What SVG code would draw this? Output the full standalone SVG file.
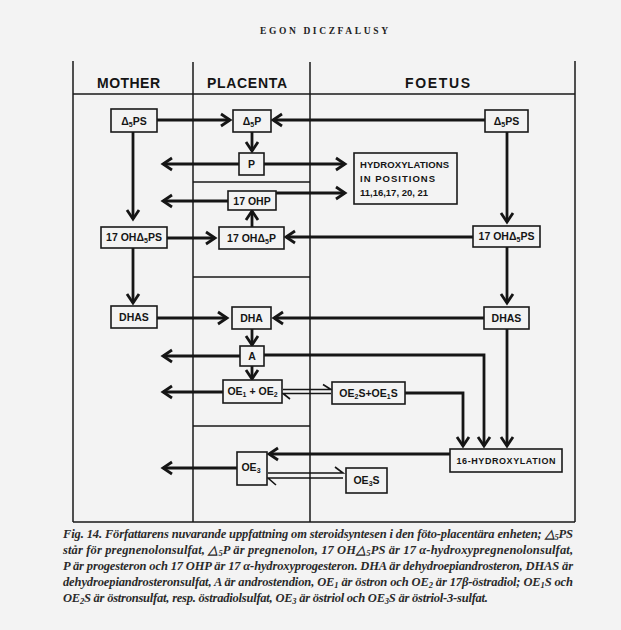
<svg xmlns="http://www.w3.org/2000/svg" width="621" height="630" viewBox="0 0 621 630">
<style>
.frame{stroke:#1a1a1a;stroke-width:1.5;fill:none}
.box{fill:#f3f3f3;stroke:#1a1a1a;stroke-width:1.6}
.lbl{font-family:"Liberation Sans",Arial,sans-serif;font-weight:bold;font-size:10.5px;fill:#151515;text-anchor:middle}
.hdr{font-family:"Liberation Sans",Arial,sans-serif;font-weight:bold;font-size:14px;fill:#151515;text-anchor:middle}
.arr{stroke:#151515;stroke-width:2.8;fill:none;marker-end:url(#ah)}
.eq{stroke:#151515;stroke-width:1.6;fill:none}
.cap{font-family:"Liberation Serif","Times New Roman",serif;font-style:italic;font-weight:bold;font-size:12.5px;fill:#2a2a2a}
.sub{font-size:7px}
.csub{font-size:8.5px}
</style>
<defs>
<marker id="ah" markerUnits="userSpaceOnUse" markerWidth="16" markerHeight="16" viewBox="0 0 16 16" refX="12" refY="8" orient="auto">
<path d="M3,2 L12,8 L3,14" fill="none" stroke="#151515" stroke-width="2.8"/>
</marker>
</defs>
<rect x="0" y="0" width="621" height="630" fill="#f3f3f3"/>
<text x="324" y="34" font-family="Liberation Serif,serif" font-weight="bold" font-size="9.5" fill="#222" text-anchor="middle" textLength="128" lengthAdjust="spacing">EGON DICZFALUSY</text>
<g id="frame">
<path class="frame" d="M73,61 V522 M193,62 V522 M310,62 V522 M575,61 V522 M73,94 H575 M73,522 H575"/>
<path class="frame" d="M193,182 H310 M193,277 H310 M193,426 H310"/>
<text class="hdr" x="128.5" y="88" textLength="63" lengthAdjust="spacing">MOTHER</text>
<text class="hdr" x="247" y="88" textLength="80" lengthAdjust="spacing">PLACENTA</text>
<text class="hdr" x="437.5" y="88" textLength="65" lengthAdjust="spacing">FOETUS</text>
</g>
<g id="connectors">
<path class="arr" d="M157,120 H230"/>
<path class="arr" d="M485,120 H273"/>
<path class="arr" d="M252,132 V151"/>
<path class="arr" d="M239,164 H163"/>
<path class="arr" d="M264,164 H345"/>
<path class="arr" d="M228,201 H163"/>
<path class="arr" d="M276,193 H345"/>
<path class="arr" d="M252,227 V211"/>
<path class="arr" d="M133,132 V219"/>
<path class="arr" d="M167,238 H215"/>
<path class="arr" d="M473,237 H286"/>
<path class="arr" d="M507,132 V222"/>
<path class="arr" d="M133,248 V303"/>
<path class="arr" d="M507,247 V303"/>
<path class="arr" d="M157,318 H227"/>
<path class="arr" d="M484,318 H274"/>
<path class="arr" d="M252,329 V345"/>
<path class="arr" d="M240,356 H163"/>
<path class="arr" d="M264,355 H484 V446"/>
<path class="arr" d="M252,366 V379"/>
<path class="arr" d="M223,392 H163"/>
<path class="arr" d="M405,393 H463 V446"/>
<path class="arr" d="M507,329 V446"/>
<path class="arr" d="M450,454 H269"/>
<path class="arr" d="M237,468 H163"/>
<path class="eq" d="M283,389.5 H331 L323,384.5 M331,393.5 H283 L290,399"/>
<path class="eq" d="M268,473 H343 L335,467 M343,478 H268 L276,485"/>
</g>
<g id="n-mother-d5ps"><rect class="box" x="111" y="109" width="46" height="23"/><text class="lbl" x="134" y="124.5">Δ<tspan class="sub" dy="2">5</tspan><tspan dy="-2">PS</tspan></text></g>
<g id="n-d5p"><rect class="box" x="233" y="110" width="38" height="22"/><text class="lbl" x="252" y="125">Δ<tspan class="sub" dy="2">5</tspan><tspan dy="-2">P</tspan></text></g>
<g id="n-foetus-d5ps"><rect class="box" x="485" y="110" width="43" height="22"/><text class="lbl" x="506.5" y="125">Δ<tspan class="sub" dy="2">5</tspan><tspan dy="-2">PS</tspan></text></g>
<g id="n-p"><rect class="box" x="239" y="153" width="25" height="22"/><text class="lbl" x="251.5" y="168">P</text></g>
<g id="n-hydroxylations"><rect class="box" x="354" y="153" width="103" height="51"/>
<text class="lbl" x="360" y="168" style="text-anchor:start;font-size:9.5px" textLength="89" lengthAdjust="spacing">HYDROXYLATIONS</text>
<text class="lbl" x="360" y="182" style="text-anchor:start;font-size:9.5px" textLength="75" lengthAdjust="spacing">IN  POSITIONS</text>
<text class="lbl" x="360" y="196" style="text-anchor:start;font-size:9.5px" textLength="68" lengthAdjust="spacing">11,16,17, 20, 21</text></g>
<g id="n-17ohp"><rect class="box" x="228" y="191" width="48" height="19"/><text class="lbl" x="252" y="204.5">17 OHP</text></g>
<g id="n-mother-17ohd5ps"><rect class="box" x="101" y="227" width="66" height="21"/><text class="lbl" x="134" y="241">17 OHΔ<tspan class="sub" dy="2">5</tspan><tspan dy="-2">PS</tspan></text></g>
<g id="n-17ohd5p"><rect class="box" x="219" y="227" width="65" height="22"/><text class="lbl" x="251.5" y="241.5">17 OHΔ<tspan class="sub" dy="2">5</tspan><tspan dy="-2">P</tspan></text></g>
<g id="n-foetus-17ohd5ps"><rect class="box" x="473" y="226" width="67" height="21"/><text class="lbl" x="506.5" y="240">17 OHΔ<tspan class="sub" dy="2">5</tspan><tspan dy="-2">PS</tspan></text></g>
<g id="n-mother-dhas"><rect class="box" x="111" y="306" width="46" height="22"/><text class="lbl" x="134" y="321">DHAS</text></g>
<g id="n-dha"><rect class="box" x="232" y="307" width="39" height="22"/><text class="lbl" x="251.5" y="322">DHA</text></g>
<g id="n-foetus-dhas"><rect class="box" x="484" y="307" width="45" height="22"/><text class="lbl" x="506.5" y="322">DHAS</text></g>
<g id="n-a"><rect class="box" x="240" y="346" width="24" height="20"/><text class="lbl" x="252" y="359.5">A</text></g>
<g id="n-oe1oe2"><rect class="box" x="223" y="380" width="59" height="23"/><text class="lbl" x="252.5" y="395">OE<tspan class="sub" dy="2">1</tspan><tspan dy="-2"> + OE</tspan><tspan class="sub" dy="2">2</tspan></text></g>
<g id="n-oe2s-oe1s"><rect class="box" x="332" y="382" width="73" height="22"/><text class="lbl" x="368.5" y="396.5">OE<tspan class="sub" dy="2">2</tspan><tspan dy="-2">S+OE</tspan><tspan class="sub" dy="2">1</tspan><tspan dy="-2">S</tspan></text></g>
<g id="n-16-hydroxylation"><rect class="box" x="450" y="449" width="112" height="23"/><text class="lbl" x="506" y="464" style="font-size:9px" textLength="99" lengthAdjust="spacing">16-HYDROXYLATION</text></g>
<g id="n-oe3"><rect class="box" x="237" y="452" width="30" height="33"/><text class="lbl" x="251" y="471">OE<tspan class="sub" dy="2">3</tspan></text></g>
<g id="n-oe3s"><rect class="box" x="346" y="468" width="41" height="25"/><text class="lbl" x="366.5" y="484">OE<tspan class="sub" dy="2">3</tspan><tspan dy="-2">S</tspan></text></g>
<g id="caption">
<text class="cap" x="63" y="538" textLength="510" lengthAdjust="spacing">Fig. 14. Författarens nuvarande uppfattning om steroidsyntesen i den föto-placentära enheten; △<tspan class="csub" dy="2">5</tspan><tspan dy="-2">PS</tspan></text>
<text class="cap" x="63" y="554" textLength="510" lengthAdjust="spacing">står för pregnenolonsulfat, △<tspan class="csub" dy="2">5</tspan><tspan dy="-2">P är pregnenolon, 17 OH△</tspan><tspan class="csub" dy="2">5</tspan><tspan dy="-2">PS är 17 α-hydroxypregnenolonsulfat,</tspan></text>
<text class="cap" x="63" y="570" textLength="510" lengthAdjust="spacing">P är progesteron och 17 OHP är 17 α-hydroxyprogesteron. DHA är dehydroepiandrosteron, DHAS är</text>
<text class="cap" x="63" y="586" textLength="510" lengthAdjust="spacing">dehydroepiandrosteronsulfat, A är androstendion, OE<tspan class="csub" dy="2">1</tspan><tspan dy="-2"> är östron och OE</tspan><tspan class="csub" dy="2">2</tspan><tspan dy="-2"> är 17β-östradiol; OE</tspan><tspan class="csub" dy="2">1</tspan><tspan dy="-2">S och</tspan></text>
<text class="cap" x="63" y="602" textLength="425" lengthAdjust="spacing">OE<tspan class="csub" dy="2">2</tspan><tspan dy="-2">S är östronsulfat, resp. östradiolsulfat, OE</tspan><tspan class="csub" dy="2">3</tspan><tspan dy="-2"> är östriol och OE</tspan><tspan class="csub" dy="2">3</tspan><tspan dy="-2">S är östriol-3-sulfat.</tspan></text>
</g>
</svg>
